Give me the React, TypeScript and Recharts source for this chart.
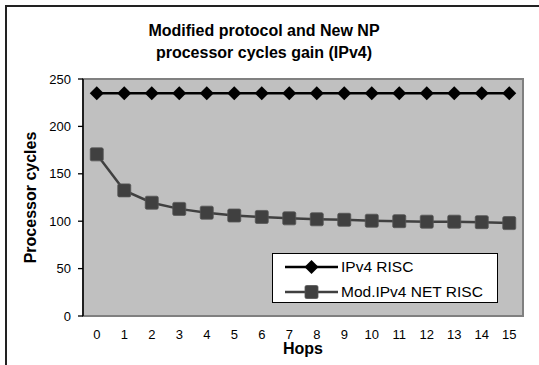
import React from 'react';
import { LineChart, Line, XAxis, YAxis, ReferenceArea } from 'recharts';

const hops = [0, 1, 2, 3, 4, 5, 6, 7, 8, 9, 10, 11, 12, 13, 14, 15];
const ipv4Risc = [235, 235, 235, 235, 235, 235, 235, 235, 235, 235, 235, 235, 235, 235, 235, 235];
const modIpv4NetRisc = [170.5, 132.5, 119.5, 113, 109, 106, 104.5, 103, 102, 101.5, 100.5, 100, 99.5, 99.5, 99, 98];
const yTicks = [0, 50, 100, 150, 200, 250];
const tickBounds = [-0.5, 0.5, 1.5, 2.5, 3.5, 4.5, 5.5, 6.5, 7.5, 8.5, 9.5, 10.5, 11.5, 12.5, 13.5, 14.5, 15.5];
const seriesNames = ['IPv4 RISC', 'Mod.IPv4 NET RISC'];
const titleLines = ['Modified protocol and New NP', 'processor cycles gain (IPv4)'];

const data = hops.map((h, i) => ({ hop: h, a: ipv4Risc[i], b: modIpv4NetRisc[i] }));

const FONT = '"Liberation Sans", Arial, sans-serif';

const Diamond = (props: any) => {
  const { cx, cy } = props;
  if (cx == null || cy == null) return null;
  const r = 7;
  return <polygon points={`${cx},${cy - r} ${cx + r},${cy} ${cx},${cy + r} ${cx - r},${cy}`} fill="#000" />;
};

const Square = (props: any) => {
  const { cx, cy } = props;
  if (cx == null || cy == null) return null;
  const r = 6.5;
  return <rect x={cx - r} y={cy - r} width={2 * r} height={2 * r} rx={1.5} fill="#404040" stroke="#555" strokeWidth={0.8} />;
};

const LegendBox = () => (
  <div style={{ position: 'absolute', left: 272, top: 253, width: 224, height: 48, background: '#fff', border: '1px solid #000', fontFamily: FONT, fontSize: 15.5, color: '#000' }}>
    {seriesNames.map((n, i) => (
      <div key={n} style={{ position: 'absolute', left: 0, top: i === 0 ? 4 : 29, height: 18, display: 'flex', alignItems: 'center', whiteSpace: 'nowrap' }}>
        <svg width={68} height={18} style={{ display: 'block' }}>
          <line x1={12} x2={65} y1={9} y2={9} stroke={i === 0 ? '#000' : '#404040'} strokeWidth={2.5} />
          {i === 0 ? (
            <polygon points="38.5,2 45.5,9 38.5,16 31.5,9" fill="#000" />
          ) : (
            <rect x={32} y={2.5} width={13} height={13} rx={1.5} fill="#404040" stroke="#555" strokeWidth={0.8} />
          )}
        </svg>
        <span style={{ lineHeight: '18px' }}>{n}</span>
      </div>
    ))}
  </div>
);

export default function App() {
  return (
    <div style={{ position: 'absolute', left: 0, top: 0, width: 539, height: 365, overflow: 'hidden', background: '#fff' }}>
      <div style={{ position: 'absolute', left: 5, top: 5, width: 700, height: 500, borderLeft: '2px solid #222', borderTop: '2px solid #222' }} />
      <div style={{ position: 'absolute', left: 64, top: 20, width: 400, textAlign: 'center', fontFamily: FONT, fontWeight: 'bold', fontSize: 16, lineHeight: '22px', color: '#000' }}>
        {titleLines.map((t) => (
          <div key={t}>{t}</div>
        ))}
      </div>
      <div style={{ position: 'absolute', left: 0, top: 0 }}>
        <LineChart width={539} height={365} data={data} margin={{ top: 79, right: 16, bottom: 0, left: 0 }}>
          <XAxis
            xAxisId="marks"
            dataKey="hop"
            type="number"
            domain={[-0.5, 15.5]}
            allowDataOverflow
            ticks={tickBounds}
            interval={0}
            height={0}
            tickSize={10}
            tickLine={{ stroke: '#000', strokeWidth: 1.3, transform: 'translate(0,-6)' }}
            axisLine={{ stroke: '#000', strokeWidth: 1.5 }}
            tickFormatter={() => ''}
          />
          <XAxis
            xAxisId="lbl"
            dataKey="hop"
            type="number"
            domain={[-0.5, 15.5]}
            allowDataOverflow
            ticks={hops}
            interval={0}
            height={49}
            tickSize={0}
            tickMargin={14}
            tickLine={false}
            axisLine={false}
            tick={{ fill: '#000', fontSize: 13, fontFamily: FONT }}
            label={(p: any) => {
              const vb = p.viewBox || {};
              return (
                <text x={vb.x + vb.width / 2} y={vb.y + 38} textAnchor="middle" fontFamily={FONT} fontWeight="bold" fontSize={16} fill="#000">
                  Hops
                </text>
              );
            }}
          />
          <YAxis
            domain={[0, 250]}
            ticks={yTicks}
            interval={0}
            width={83}
            tickSize={5}
            tickMargin={7}
            tickLine={{ stroke: '#000', strokeWidth: 1.3 }}
            axisLine={{ stroke: '#000', strokeWidth: 1.5 }}
            tick={{ fill: '#000', fontSize: 13, fontFamily: FONT }}
            label={(p: any) => {
              const vb = p.viewBox || {};
              const cx = vb.x + 30;
              const cy = vb.y + vb.height / 2;
              return (
                <text x={cx} y={cy} transform={`rotate(-90 ${cx} ${cy})`} textAnchor="middle" dominantBaseline="central" fontFamily={FONT} fontWeight="bold" fontSize={16} fill="#000">
                  Processor cycles
                </text>
              );
            }}
          />
          <ReferenceArea xAxisId="lbl" x1={-0.5} x2={15.5} y1={0} y2={250} fill="#C0C0C0" fillOpacity={1} stroke="#808080" strokeWidth={2} ifOverflow="visible" />
          <Line xAxisId="lbl" dataKey="a" name={seriesNames[0]} stroke="#000" strokeWidth={2.5} dot={<Diamond />} activeDot={false} isAnimationActive={false} />
          <Line xAxisId="lbl" dataKey="b" name={seriesNames[1]} stroke="#404040" strokeWidth={2.5} dot={<Square />} activeDot={false} isAnimationActive={false} />
        </LineChart>
      </div>
      <LegendBox />
    </div>
  );
}
